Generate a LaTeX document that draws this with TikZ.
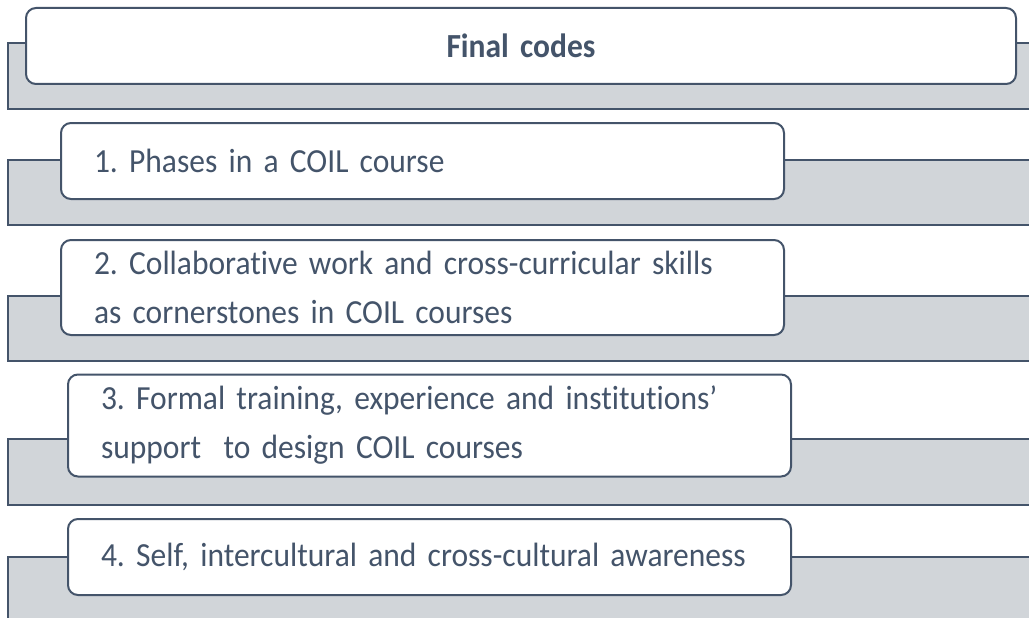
\documentclass[tikz,border=0pt]{standalone}
\usepackage{fontspec}
\setmainfont{Carlito}[FakeStretch=0.935,WordSpace=0.8,Ligatures={NoCommon,NoContextual}]
\definecolor{slate}{HTML}{44546A}
\definecolor{bandgrey}{HTML}{D1D5D9}
\newcommand\nolig{\kern0pt}
\begin{document}
\frenchspacing
\begin{tikzpicture}[x=1pt,y=-1pt,
    bandbox/.style={fill=bandgrey,draw=slate,line width=1.2pt},
    codebox/.style={draw=slate,fill=white,line width=2pt,rounded corners=10pt,
      anchor=west,align=left,inner xsep=33pt,text=slate,
      font=\fontsize{33.7}{49}\selectfont}]
  \clip (0,0) rectangle (1029,618);
  \fill[white] (0,0) rectangle (1029,618);
  % grey bands
  \draw[bandbox] (8,43) rectangle (1040,109);
  \draw[bandbox] (8,160) rectangle (1040,225);
  \draw[bandbox] (8,296) rectangle (1040,361);
  \draw[bandbox] (8,439) rectangle (1040,505);
  \draw[bandbox] (8,557) rectangle (1040,630);
  % code boxes
  \node[codebox,text width=924pt,minimum height=76pt,align=center,
    font=\fontsize{33.7}{49}\selectfont\bfseries] (title) at (25,46) {Final codes};
  \node[codebox,text width=657pt,minimum height=76pt] (code1) at (60,161)
    {1. Phases in a COIL course};
  \node[codebox,text width=657pt,minimum height=95pt] (code2) at (60,287.5)
    {2. Collaborat\nolig ive work and cross-curricular skills\\as cornerstones in COIL courses};
  \node[codebox,text width=657pt,minimum height=102pt] (code3) at (67,425.5)
    {3. Formal training, experience and inst\nolig itut\nolig ions'\\support\ \ to design COIL courses};
  \node[codebox,text width=657pt,minimum height=76pt] (code4) at (67,557)
    {4. Self, intercultural and cross-cultural awareness};
\end{tikzpicture}
\end{document}
